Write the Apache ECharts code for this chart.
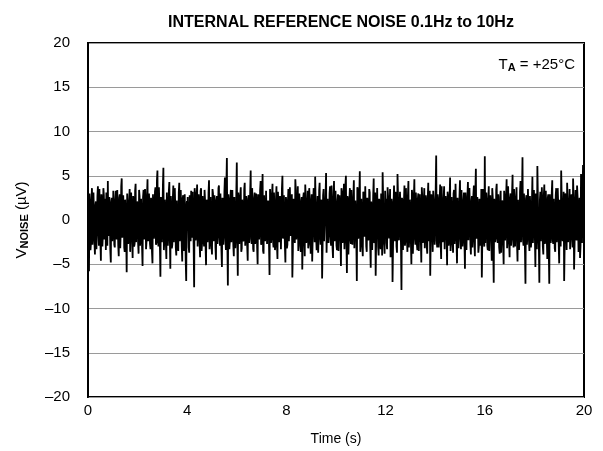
<!DOCTYPE html>
<html>
<head>
<meta charset="utf-8">
<script src="https://cdn.jsdelivr.net/npm/echarts@6/dist/echarts.min.js"></script>
<style>
  html, body { margin: 0; padding: 0; background: #fff; }
  #chart { width: 603px; height: 451px; }
</style>
</head>
<body>
<div id="chart"></div>
<script>
  // time step between the main samples (s); the "mid" samples sit halfway between
  var timeStep = 0.04;
  var timeTicks = [0, 4, 8, 12, 16, 20];
  var voltTicks = [-20, -15, -10, -5, 0, 5, 10, 15, 20];

  // noise samples (uV), 0..4 s
  var noise0 = [
    3.2, -5.8, 1.4, -2.6, 3.6, -1.2, 0.8, -3.9, 2.1, -0.6,
    3.8, -2.9, 0.4, -4.6, 1.9, -1.7, 2.8, -0.3, -3.4, 1.2,
    4.4, -1.8, 0.6, -4.8, 2.5, -0.9, 1.7, -3.1, 3.3, -2.2,
    0.2, -4.1, 2.9, -1.4, 4.7, -0.8, 1.1, -3.6, 2.4, -5.9,
    0.9, -2.0, 3.5, -1.1, 0.5, -4.3, 2.2, -2.7, 4.1, -0.4,
    1.6, -3.8, 2.7, -1.5, 0.3, -5.2, 3.4, -0.7, 1.8, -2.4,
    4.6, -1.9, 0.7, -3.3, 2.0, -4.9, 1.3, -1.0, 3.7, -2.5,
    5.6, -3.0, 1.5, -6.4, 2.6, -0.5, 5.9, -2.1, 0.9, -4.4,
    3.1, -1.6, 4.3, -5.5, 1.0, -2.8, 3.9, -0.2, 1.4, -4.0,
    2.3, -3.5, 4.2, -1.3, 0.6, -4.7, 2.8, -2.3, 3.0, -6.9
  ];
  var mid0 = [
    -2.1, 3.0, -3.4, 2.2, -2.8, 3.1, -2.5, 1.6, -3.3, 2.7,
    -1.4, 3.5, -2.6, 2.9, -3.0, 3.6, -2.2, 2.4, 3.1, -2.9,
    -1.2, 2.6, -3.5, 2.1, -2.4, 3.3, -2.8, 2.0, -1.6, 3.4,
    -2.9, 2.5, -3.2, 3.8, -2.0, 2.8, -3.1, 2.3, -1.9, 3.0,
    -2.7, 2.2, -3.6, 3.1, -2.3, 2.7, -3.0, 3.3, -2.5, 2.1,
    -2.6, 3.4, -2.9, 2.4, -3.1, 2.6, -2.2, 3.5, -3.3, 2.8,
    -2.4, 3.0, -2.7, 2.5, -3.6, 2.9, -2.1, 3.2, -2.8, 4.5,
    -2.2, 3.7, -3.0, 2.6, -2.5, 3.9, -3.4, 2.3, -2.6, 3.1,
    -2.9, 3.3, -2.0, 2.7, -3.2, 2.4, -2.5, 3.6, -3.1, 2.2,
    -2.7, 3.1, -2.4, 3.4, -3.0, 2.5, -3.5, 2.9, -4.6, 2.0
  ];
  // 4..8 s
  var noise4 = [
    -1.2, 2.4, -3.7, 1.1, 3.3, -2.0, 0.4, -7.6, 2.9, -1.5,
    4.0, -0.6, 1.9, -4.2, 3.6, -2.6, 0.8, -3.0, 2.2, -5.1,
    1.3, -0.9, 4.5, -2.2, 0.1, -3.9, 3.0, -1.8, 1.6, -4.5,
    2.7, -0.3, 3.9, -2.9, 0.7, -5.3, 2.0, -1.1, 4.8, -3.4,
    7.0, -7.4, 1.8, -2.4, 3.4, -0.8, 0.9, -4.1, 2.5, -1.7,
    6.5, -6.3, 2.1, -1.0, 3.7, -3.2, 0.5, -2.1, 4.2, -1.4,
    1.2, -4.6, 2.8, -0.4, 5.6, -2.7, 0.3, -3.6, 3.1, -1.9,
    1.5, -5.0, 2.6, -0.7, 4.4, -2.3, 5.2, -3.8, 1.0, -1.6,
    3.2, -0.2, 1.7, -6.2, 2.3, -1.2, 4.1, -3.1, 0.6, -2.5,
    3.8, -4.4, 1.4, -0.5, 2.9, -3.3, 5.0, -1.3, 0.2, -4.8
  ];
  var mid4 = [
    2.6, -3.1, 2.8, -2.4, -1.7, 3.2, -2.9, 3.6, -2.3, 2.5,
    -3.0, 2.9, -2.6, 3.3, -3.5, 2.7, -2.1, 3.4, -2.8, 2.3,
    -2.5, 3.1, -3.3, 2.6, -2.9, 3.5, -2.4, 2.8, -3.1, 2.2,
    -2.7, 3.6, -2.0, 3.0, -3.4, 2.5, -2.8, 3.2, -1.9, 3.9,
    -2.6, 2.9, -3.3, 2.4, -2.5, 3.4, -2.9, 2.6, -3.2, 3.0,
    -2.3, 3.1, -2.7, 2.8, -3.6, 2.3, -2.4, 3.5, -2.9, 2.7,
    -3.0, 2.4, -2.6, 3.2, -2.1, 3.6, -3.3, 2.5, -2.7, 3.0,
    -3.1, 2.9, -2.2, 3.4, -2.8, 2.6, -3.5, 2.8, -2.4, 3.3,
    -2.7, 2.2, -3.0, 3.5, -2.6, 2.9, -2.3, 3.1, -3.4, 2.4,
    -2.9, 3.2, -2.5, 2.7, -3.3, 3.6, -2.1, 2.8, -3.0, 2.6
  ];
  // 8..12 s
  var noise8 = [
    2.0, -2.8, 3.5, -0.9, 0.8, 1.2, -6.5, 2.4, -1.4, 4.6,
    -2.2, 1.1, -3.5, 3.0, -0.6, 1.9, -5.6, 2.6, -1.8, 4.0,
    -2.6, 0.5, -3.2, 3.6, -1.0, 1.3, -4.7, 2.2, -0.4, 4.9,
    -2.0, 0.9, -3.7, 3.3, -1.5, 1.7, -6.6, 2.8, -2.4, 1.1,
    5.3, -3.9, 2.5, -0.8, 3.8, -2.9, 1.0, -4.3, 4.4, -1.7,
    0.6, -3.4, 2.9, -0.3, 1.5, -5.2, 3.2, -2.1, 4.1, -1.2,
    5.0, -6.0, 2.3, -1.9, 3.6, -2.7, 1.2, -3.0, 4.5, -0.7,
    2.0, -6.9, 3.4, -1.3, 5.5, -2.5, 0.3, -4.1, 2.7, -0.9,
    4.0, -3.6, 1.4, -1.8, 3.1, -5.4, 2.1, -0.5, 4.7, -2.3,
    -6.3, 0.8, 3.5, -4.0, 1.8, -3.3, 0.7, 5.4, -2.4, -3.8
  ];
  var mid8 = [
    -3.2, 2.1, -2.4, 3.7, -1.8, 2.9, -3.5, 2.2, -2.6, 3.4,
    -2.0, 3.8, -2.9, 1.9, -3.6, 2.6, -2.3, 3.1, -4.1, 2.5,
    -1.7, 3.3, -2.7, 2.4, -3.8, 2.9, -2.1, 3.6, -2.5, 2.0,
    -3.4, 2.7, -1.9, 4.2, -2.8, 2.3, -3.0, 3.5, -2.2, 2.8,
    -3.7, 2.4, -2.6, 3.0, -1.8, 3.9, -3.1, 2.5, -2.4, 3.3,
    -2.9, 2.1, -3.5, 2.8, -2.2, 3.6, -2.6, 1.9, -3.3, 4.0,
    -2.5, 2.7, -3.9, 2.3, -2.0, 3.4, -2.8, 2.6, -3.2, 2.2,
    -2.4, 3.7, -2.1, 2.9, -3.6, 2.4, -2.7, 3.2, -1.9, 3.8,
    -3.0, 2.5, -2.3, 3.5, -2.9, 2.1, -3.4, 2.8, -2.6, 3.1,
    -2.2, 3.6, -3.1, 2.4, -2.5, 3.0, -4.0, 2.7, -2.8, 3.3
  ];
  // 12..16 s
  var noise12 = [
    1.3, -2.6, 3.7, -0.8, 0.9, -4.2, 2.4, -7.0, 1.6, -1.2,
    3.2, -3.0, 5.2, -1.9, 0.6, 1.5, -7.9, 2.1, -0.4, 3.9,
    -2.2, 1.0, -3.6, 4.4, -1.5, 0.3, -5.0, 2.8, -0.9, 4.6,
    -2.8, 1.4, -3.4, 3.0, -1.0, 0.5, -4.8, 2.5, -1.7, 3.6,
    -0.3, 1.9, -3.8, 4.2, -2.4, -6.3, 2.9, -1.1, 3.3, -0.6,
    1.2, 7.3, -3.1, 2.2, -1.4, 4.0, -4.4, 0.8, -2.0, 3.8,
    -0.5, 1.6, -5.1, 2.6, -1.8, 4.8, -2.5, 0.4, -3.7, 3.4,
    -1.3, 1.1, -4.9, 2.3, -0.7, 4.5, -3.3, 0.9, -1.9, 3.1,
    -5.5, 1.7, -0.2, 4.3, -2.1, 1.3, -3.9, 2.7, -1.0, 3.9,
    -4.1, 5.8, -1.6, 0.7, -3.0, 2.0, -0.8, -6.5, 3.5, -2.4
  ];
  var mid12 = [
    2.4, -3.3, 2.7, -2.1, 3.5, -2.6, 1.8, -3.0, 3.9, -2.4,
    2.2, -3.7, 2.9, -2.3, 3.2, -2.8, 2.5, -3.4, 2.1, -2.9,
    3.6, -2.2, 2.8, -3.1, 2.3, -2.5, 3.4, -3.8, 2.6, -2.0,
    3.1, -2.7, 2.4, -3.5, 2.9, -2.2, 3.7, -2.6, 2.0, -3.2,
    2.8, -3.0, 2.5, -2.4, 3.3, -1.9, 2.6, -3.6, 2.2, -2.8,
    3.5, -2.3, 2.9, -3.1, 2.1, -2.6, 3.8, -2.5, 2.4, -3.3,
    2.7, -2.0, 3.2, -2.9, 2.3, -3.5, 2.6, -2.2, 3.0, -2.7,
    4.1, -2.4, 2.5, -3.2, 2.8, -2.1, 3.4, -3.0, 2.2, -2.6,
    3.1, -3.4, 2.7, -2.3, 3.6, -2.8, 2.0, -3.1, 2.9, -2.5,
    3.3, -2.1, 2.6, -3.7, 2.4, -2.9, 3.5, -2.2, 2.8, -3.0
  ];
  // 16..20 s
  var noise16 = [
    7.2, -2.8, 1.5, -3.4, 3.8, -0.9, 1.1, -4.6, 2.6, -7.1,
    0.8, -1.7, 4.1, -2.6, 0.3, -3.8, 3.3, -1.2, 1.9, -5.0,
    2.4, -0.5, 4.6, -2.1, 0.9, -4.2, 3.0, -1.5, 5.1, -3.1,
    1.4, -0.8, 3.7, -4.7, 2.2, -1.9, 4.4, -0.4, 7.1, -2.9,
    0.6, -7.2, 2.8, -1.3, 3.5, -3.5, 1.0, -2.3, 4.9, -0.9,
    1.8, -5.3, 2.5, 6.1, -1.6, -7.1, 3.2, -0.6, 1.3, -3.9,
    4.0, -2.4, 0.5, -4.4, 2.9, -7.2, 1.6, -1.0, 4.5, -2.7,
    0.7, -3.6, 3.6, -1.4, 1.9, -4.9, 2.3, 5.6, -1.8, 0.4,
    -6.9, 3.0, -0.7, 4.2, -2.5, 1.2, -3.3, 2.6, -1.1, 4.7,
    -5.6, 0.9, -2.0, 3.9, -0.3, 1.5, -4.3, 5.2, -2.6, 6.2,
    -1.5
  ];
  var mid16 = [
    -2.6, 3.1, -2.9, 2.3, -3.5, 2.8, -2.2, 3.6, -3.3, 2.4,
    -2.5, 3.4, -2.0, 2.9, -3.1, 2.6, -3.7, 2.2, -2.8, 3.3,
    -2.3, 2.7, -3.2, 3.8, -2.4, 2.5, -2.9, 3.1, -2.1, 3.5,
    -3.0, 2.6, -2.7, 2.3, -3.4, 3.2, -2.5, 2.9, -2.2, 3.0,
    -3.6, 2.4, -2.8, 3.5, -2.3, 2.7, -3.1, 2.1, -2.6, 3.4,
    -2.0, 3.0, -3.3, 2.6, -2.9, 2.2, -2.4, 3.7, -3.0, 2.8,
    -2.7, 3.3, -2.1, 2.5, -3.5, 2.9, -2.6, 3.1, -2.3, 2.4,
    -3.2, 2.8, -2.5, 3.6, -2.8, 2.3, -3.0, 2.7, -2.4, 3.2,
    -2.9, 2.5, -3.4, 2.2, -2.6, 3.5, -2.1, 2.9, -3.1, 2.6,
    -2.8, 3.4, -2.3, 2.7, -3.6, 2.5, -2.9, 3.2, -2.4, 3.0
  ];

  var noise = noise0.concat(noise4, noise8, noise12, noise16);
  var mids = mid0.concat(mid4, mid8, mid12, mid16);
  var seriesData = [];
  noise.forEach(function (v, i) {
    seriesData.push([+(i * timeStep).toFixed(2), v]);
    if (i < mids.length) {
      seriesData.push([+(i * timeStep + timeStep / 2).toFixed(2), mids[i]]);
    }
  });

  var fontFam = '"Liberation Sans", Arial, sans-serif';
  var myChart = echarts.init(document.getElementById('chart'));
  var option = {
    animation: false,
    backgroundColor: '#fff',
    textStyle: { fontFamily: fontFam },
    title: {
      text: 'INTERNAL REFERENCE NOISE 0.1Hz to 10Hz',
      left: 336,
      textAlign: 'center',
      top: 10,
      textStyle: { fontSize: 16, fontWeight: 'bold', color: '#000', fontFamily: fontFam }
    },
    grid: {
      left: 88, right: 19, top: 43, bottom: 54,
      show: true, borderColor: '#000', borderWidth: 2
    },
    xAxis: {
      type: 'value',
      min: timeTicks[0],
      max: timeTicks[timeTicks.length - 1],
      interval: 4,
      name: 'Time (s)',
      nameLocation: 'middle',
      nameGap: 35,
      nameTextStyle: { fontSize: 14, color: '#000', fontFamily: fontFam },
      axisLine: { show: true, lineStyle: { color: '#000', width: 2 } },
      axisTick: { show: true, inside: true, length: 19, lineStyle: { color: '#000', width: 2 } },
      axisLabel: { fontSize: 15, color: '#000', margin: 6, fontFamily: fontFam },
      splitLine: { show: false }
    },
    yAxis: {
      type: 'value',
      min: voltTicks[0],
      max: voltTicks[voltTicks.length - 1],
      interval: 5,
      name: '{a|V}{b|NOISE}{a| (µV)}',
      nameLocation: 'middle',
      nameGap: 58,
      nameRotate: 90,
      nameTextStyle: {
        color: '#000',
        rich: {
          a: { fontSize: 15, color: '#000', fontFamily: fontFam },
          b: { fontSize: 11, fontWeight: 'bold', color: '#000', fontFamily: fontFam, padding: [6, 0, 0, 0] }
        }
      },
      axisLine: { show: true, lineStyle: { color: '#000', width: 2 } },
      axisTick: { show: false },
      axisLabel: {
        fontSize: 15, color: '#000', margin: 18, fontFamily: fontFam,
        formatter: function (v) { return String(v).replace('-', '\u2013'); }
      },
      splitLine: { show: true, lineStyle: { color: '#9a9a9a', width: 1 } }
    },
    graphic: [{
      type: 'text',
      right: 28,
      top: 57,
      style: {
        text: '{a|T}{b|A}{a| = +25°C}',
        rich: {
          a: { fontSize: 15, fill: '#000', fontFamily: fontFam },
          b: { fontSize: 11, fontWeight: 'bold', fill: '#000', fontFamily: fontFam, padding: [6, 0, 0, 0] }
        }
      }
    }],
    series: [{
      type: 'line',
      data: seriesData,
      showSymbol: false,
      symbol: 'none',
      lineStyle: { color: '#000', width: 1.8, join: 'miter', miterLimit: 2 },
      z: 1
    }]
  };
  myChart.setOption(option);
  window.addEventListener('resize', function () { myChart.resize(); });
</script>
</body>
</html>
